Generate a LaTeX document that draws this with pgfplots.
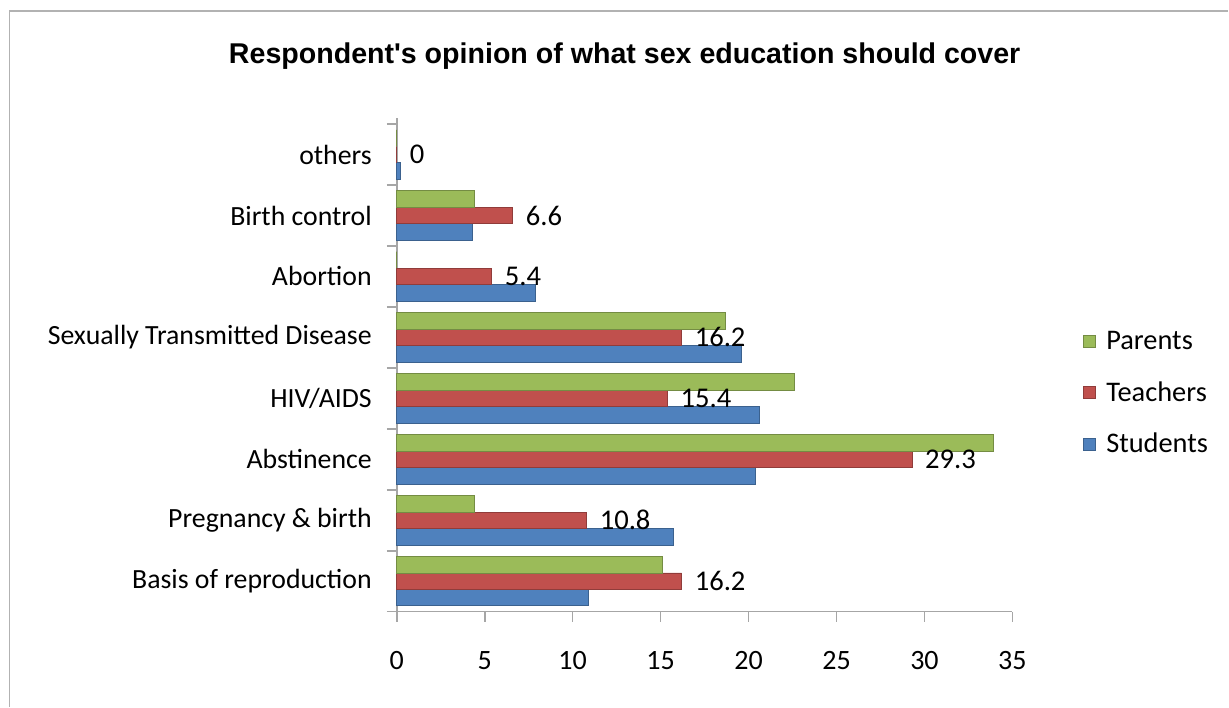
\documentclass[border=0pt]{standalone}
\usepackage{pgfplots}
\pgfplotsset{compat=1.18}
\usepackage{fontspec}
\setmainfont{Carlito}
\newfontfamily\titlefont{Liberation Sans}
\definecolor{cS}{HTML}{4F81BD}
\definecolor{cT}{HTML}{C0504D}
\definecolor{cP}{HTML}{9BBB59}
\pgfplotstableread{
y Students Teachers Parents
0 10.9 16.2 15.1
1 15.7 10.8 4.4
2 20.4 29.3 33.9
3 20.6 15.4 22.6
4 19.6 16.2 18.7
5 7.9 5.4 0
6 4.3 6.6 4.4
7 0.2 0 0
}\datatable
\begin{document}
\begin{tikzpicture}
\fill[white] (0pt,0pt) rectangle (614.5pt,-353.5pt);
\draw[gray!60, line width=0.7pt] (4.8pt,-353.5pt) -- (4.8pt,-5.5pt) -- (614.5pt,-5.5pt);
\node[font=\titlefont\bfseries\fontsize{14.3}{16}\selectfont] at (312.5pt,-28pt) {Respondent's opinion of what sex education should cover};
\begin{axis}[
  at={(198.5pt,-306pt)}, anchor=south west,
  scale only axis, width=308pt, height=247pt,
  xbar, bar width=0.27,
  xmin=0, xmax=35, ymin=-0.5, ymax=7.6,
  xtick={0,5,...,35},
  ytick={-0.5,0.5,...,7.5},
  yticklabels={},
  extra y ticks={0,...,7},
  extra y tick labels={Basis of reproduction, Pregnancy \& birth, Abstinence, HIV/AIDS, Sexually Transmitted Disease, Abortion, Birth control, others},
  extra y tick style={major tick length=0pt, tick style={draw=none}},
  /pgf/number format/assume math mode=true,
  xticklabel style={font=\fontsize{14}{16}\selectfont, yshift=-11.5pt},
  yticklabel style={font=\fontsize{13.9}{16}\selectfont, xshift=-9pt},
  axis x line*=bottom, axis y line*=left,
  axis line style={gray!70, line width=0.8pt},
  tick style={gray!70, line width=0.8pt},
  tick align=outside,
  major tick length=5pt,
  legend style={at={(1.105,0.585)}, anchor=north west, draw=none, fill=none,
    font=\fontsize{14.2}{16}\selectfont, row sep=10.5pt},
  legend cell align=left,
  reverse legend,
  legend image code/.code={\fill[#1] (2pt,-3pt) rectangle (8pt,3pt); \path (11pt,0pt);},
  clip=false,
]
\addplot[fill=cS, draw=cS!75!black, bar shift=-0.27] table[x=Students, y=y] {\datatable};
\addlegendentry{Students}
\addplot[fill=cT, draw=cT!75!black, bar shift=0,
  nodes near coords, nodes near coords align={horizontal},
  every node near coord/.append style={font=\fontsize{14.3}{16}\selectfont, text=black, xshift=3pt,
    /pgf/number format/fixed, /pgf/number format/precision=1, /pgf/number format/assume math mode=true}
  ] table[x=Teachers, y=y] {\datatable};
\addlegendentry{Teachers}
\addplot[fill=cP, draw=cP!75!black, bar shift=0.27] table[x=Parents, y=y] {\datatable};
\addlegendentry{Parents}
\end{axis}
\end{tikzpicture}
\end{document}
